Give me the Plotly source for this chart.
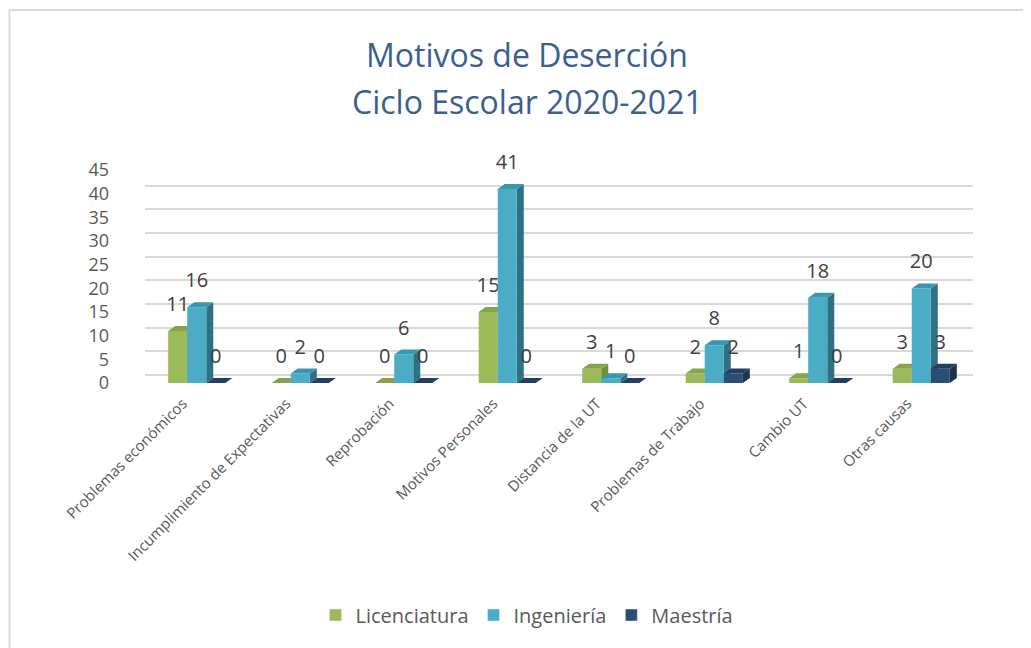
import plotly.graph_objects as go

categories = ["Problemas económicos", "Incumplimiento de Expectativas", "Reprobación",
              "Motivos Personales", "Distancia de la UT", "Problemas de Trabajo",
              "Cambio UT", "Otras causas"]
licenciatura = [11, 0, 0, 15, 3, 2, 1, 3]
ingenieria = [16, 2, 6, 41, 1, 8, 18, 20]
maestria = [0, 0, 0, 0, 0, 2, 0, 3]
series_names = ["Licenciatura", "Ingeniería", "Maestría"]
y_ticks = [0, 5, 10, 15, 20, 25, 30, 35, 40, 45]

# styles: (front, top, side)
styles = [
    ("#9BBB59", "#86A44A", "#728F3C"),
    ("#4BACC6", "#3A97AF", "#2E7184"),
    ("#2C4D75", "#233F62", "#1B3250"),
]

OFF = 8  # page body margin compensation
W, H = 1031, 648
ML, MR = 145 - OFF, 58 + OFF
MT, MB = 162 - OFF, H - (383 - OFF)
PW, PH = W - ML - MR, H - MT - MB
PX_PER_UNIT = 4.73
YMAX = PH / PX_PER_UNIT
GRID_SHIFT = 8 / PX_PER_UNIT

w = 0.184          # front face width (category units)
d = 7 / (PW / 8)   # depth in x (units)
dy = 5 / PX_PER_UNIT  # depth in y (units)
label_off = 25 / PX_PER_UNIT
tick_shift = 14 / (PW / 8)  # category label anchor shift (units)


def px_x(p):
    return (p - OFF - ML) / PW


def px_y(p):
    return (H - MB - (p - OFF)) / PH


fig = go.Figure()

all_series = [licenciatura, ingenieria, maestria]
for k, (name, vals) in enumerate(zip(series_names, all_series)):
    front_c, top_c, side_c = styles[k]
    fx, fy, tx, ty, sx, sy = [], [], [], [], [], []
    for i, v in enumerate(vals):
        c = i + (k - 1) * w
        L, R = c - w / 2, c + w / 2
        if v > 0:
            fx += [L, R, R, L, L, None]
            fy += [0, 0, v, v, 0, None]
            sx += [R, R + d, R + d, R, R, None]
            sy += [0, dy, v + dy, v, 0, None]
        tx += [L, R, R + d, L + d, L, None]
        ty += [v, v, v + dy, v + dy, v, None]
    fig.add_trace(go.Scatter(x=sx, y=sy, mode="lines", fill="toself", fillcolor=side_c,
                             line=dict(width=0, color=side_c), showlegend=False,
                             hoverinfo="skip"))
    fig.add_trace(go.Scatter(x=fx, y=fy, mode="lines", fill="toself", fillcolor=front_c,
                             line=dict(width=0, color=front_c), showlegend=False,
                             hoverinfo="skip"))
    fig.add_trace(go.Scatter(x=tx, y=ty, mode="lines", fill="toself", fillcolor=top_c,
                             line=dict(width=0, color=top_c), showlegend=False,
                             hoverinfo="skip"))
    fig.add_trace(go.Scatter(
        x=[i + (k - 1) * w for i in range(len(vals))],
        y=[v + label_off for v in vals],
        mode="text", text=[str(v) for v in vals], textposition="middle center",
        textfont=dict(family="Open Sans", size=20, color="#404040"),
        showlegend=False, hoverinfo="skip", cliponaxis=False))
    fig.add_trace(go.Bar(x=[None], y=[None], name=name, marker_color=front_c,
                         showlegend=True))

fig.add_trace(go.Scatter(x=[None], y=[None], yaxis="y2", showlegend=False))

fig.update_layout(
    width=W, height=H,
    margin=dict(l=ML, r=MR, t=MT, b=MB),
    paper_bgcolor="white", plot_bgcolor="rgba(0,0,0,0)",
    font=dict(family="Open Sans", color="#595959"),
    xaxis=dict(range=[-0.5, 7.5], tickvals=[i - tick_shift for i in range(len(categories))],
               ticktext=categories, tickangle=-45, showgrid=False, zeroline=False,
               showline=False, ticks="", tickfont=dict(size=15, color="#595959"),
               ticklabelstandoff=8, fixedrange=True),
    yaxis=dict(range=[0, YMAX], tickvals=y_ticks, showgrid=False, zeroline=False,
               showline=False, ticks="", tickfont=dict(size=18, color="#595959"),
               ticklabelstandoff=35),
    yaxis2=dict(range=[-GRID_SHIFT, YMAX - GRID_SHIFT], overlaying="y", tickvals=y_ticks,
                showgrid=True, gridcolor="#D9D9D9", gridwidth=2, showticklabels=False,
                zeroline=False, showline=False, ticks=""),
    legend=dict(orientation="h", x=px_x(527), xanchor="center", y=px_y(615),
                yanchor="middle", font=dict(size=20, color="#595959"),
                itemwidth=30, bgcolor="rgba(0,0,0,0)"),
    showlegend=True,
    annotations=[
        dict(text="Motivos de Deserción", x=px_x(527), y=px_y(55), xref="paper",
             yref="paper", showarrow=False, xanchor="center", yanchor="middle",
             font=dict(family="Open Sans", size=32, color="#3A5F93")),
        dict(text="Ciclo Escolar 2020-2021", x=px_x(527), y=px_y(101), xref="paper",
             yref="paper", showarrow=False, xanchor="center", yanchor="middle",
             font=dict(family="Open Sans", size=32, color="#3A5F93")),
    ],
    shapes=[
        dict(type="line", xref="paper", yref="paper", x0=px_x(9.5), x1=px_x(1045),
             y0=px_y(10), y1=px_y(10), line=dict(color="#D9D9D9", width=2)),
        dict(type="line", xref="paper", yref="paper", x0=px_x(9.5), x1=px_x(9.5),
             y0=px_y(10), y1=px_y(665), line=dict(color="#D9D9D9", width=2)),
    ],
)

fig.write_html("out.html")
